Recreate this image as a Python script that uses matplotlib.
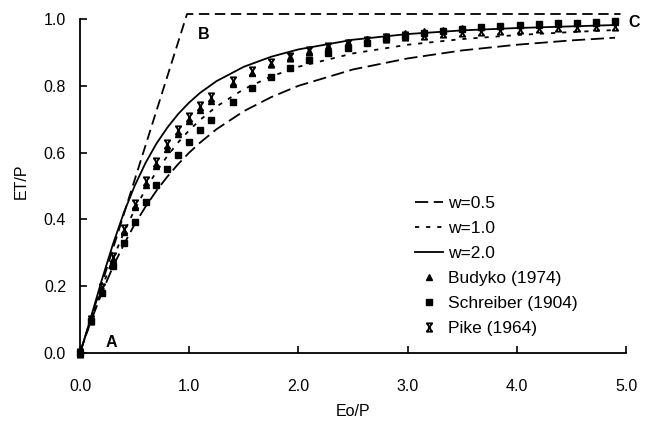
import matplotlib
matplotlib.use("Agg")
import matplotlib.pyplot as plt
from matplotlib.path import Path

plt.rcParams['font.family'] = ['Liberation Sans', 'DejaVu Sans']
plt.rcParams['lines.scale_dashes'] = False

# ---- data ----
# Zhang et al. curves (ET/P vs Eo/P)
curve_x = [0.0, 0.05, 0.1, 0.2, 0.3, 0.4, 0.5, 0.6, 0.7, 0.8, 0.9, 1.0, 1.1, 1.25, 1.5,
           1.75, 2.0, 2.5, 3.0, 3.5, 4.0, 4.5, 4.9]
w05 = [0.0, 0.049, 0.095, 0.180, 0.257, 0.324, 0.385, 0.438, 0.486, 0.528, 0.566, 0.600,
       0.630, 0.670, 0.724, 0.766, 0.800, 0.849, 0.882, 0.906, 0.923, 0.936, 0.944]
w10 = [0.0, 0.050, 0.099, 0.194, 0.281, 0.359, 0.429, 0.490, 0.543, 0.590, 0.631, 0.667,
       0.698, 0.738, 0.790, 0.828, 0.857, 0.897, 0.923, 0.940, 0.952, 0.961, 0.967]
w20 = [0.0, 0.052, 0.107, 0.219, 0.324, 0.419, 0.500, 0.569, 0.627, 0.675, 0.716, 0.750,
       0.779, 0.814, 0.857, 0.887, 0.909, 0.938, 0.955, 0.966, 0.973, 0.978, 0.982]

# empirical relationships (markers)
pts_x = [0.0, 0.1, 0.2, 0.3, 0.4, 0.5, 0.6, 0.7, 0.8, 0.9, 1.0, 1.1, 1.2,
         1.4, 1.575, 1.75, 1.925, 2.1, 2.275, 2.45, 2.625, 2.8, 2.975, 3.15,
         3.325, 3.5, 3.675, 3.85, 4.025, 4.2, 4.375, 4.55, 4.725, 4.9]
budyko = [0.0, 0.098, 0.190, 0.279, 0.361, 0.436, 0.502, 0.561, 0.611, 0.656, 0.694, 0.727, 0.756,
          0.804, 0.837, 0.864, 0.886, 0.904, 0.918, 0.931, 0.941, 0.950, 0.957, 0.963,
          0.967, 0.972, 0.975, 0.978, 0.981, 0.983, 0.985, 0.987, 0.988, 0.990]
schreiber = [0.0, 0.095, 0.181, 0.259, 0.330, 0.393, 0.451, 0.503, 0.551, 0.593, 0.632, 0.667, 0.699,
             0.753, 0.793, 0.826, 0.854, 0.878, 0.897, 0.914, 0.928, 0.939, 0.949, 0.957,
             0.964, 0.970, 0.975, 0.979, 0.982, 0.985, 0.987, 0.989, 0.991, 0.993]
pike = [0.0, 0.100, 0.196, 0.287, 0.371, 0.447, 0.514, 0.573, 0.625, 0.669, 0.707, 0.740, 0.768,
        0.814, 0.844, 0.868, 0.887, 0.903, 0.915, 0.926, 0.935, 0.942, 0.948, 0.953,
        0.958, 0.962, 0.965, 0.968, 0.971, 0.973, 0.975, 0.977, 0.978, 0.980]

# limits (energy limit A-B, water limit B-C)
limit_x = [0.0, 0.98, 4.95]
limit_y = [0.0, 1.015, 1.015]

series_labels = ['w=0.5', 'w=1.0', 'w=2.0', 'Budyko (1974)', 'Schreiber (1904)', 'Pike (1964)']
x_ticks = [0, 1, 2, 3, 4, 5]
x_ticklabels = ['0.0', '1.0', '2.0', '3.0', '4.0', '5.0']
y_ticks = [0.0, 0.2, 0.4, 0.6, 0.8, 1.0]
y_ticklabels = ['0.0', '0.2', '0.4', '0.6', '0.8', '1.0']

# ---- figure ----
fig = plt.figure(figsize=(6.54, 4.25), dpi=100)
ax = fig.add_axes([80 / 654, 1 - 353 / 425, 546 / 654, 344 / 425])

lw = 1.3
ax.plot(limit_x, limit_y, color='black', lw=lw, dashes=(7.5, 4), clip_on=False)
l1, = ax.plot(curve_x, w05, color='black', lw=lw, dashes=(9.5, 4), label=series_labels[0])
l2, = ax.plot(curve_x, w10, color='black', lw=lw, dashes=(3, 5), label=series_labels[1])
l3, = ax.plot(curve_x, w20, color='black', lw=lw, label=series_labels[2])

pike_marker = Path([(-0.8, 1), (0.8, 1), (-0.8, -1), (0.8, -1),
                    (-0.6, 1), (0.6, -1), (0.6, 1), (-0.6, -1)],
                   [Path.MOVETO, Path.LINETO, Path.MOVETO, Path.LINETO,
                    Path.MOVETO, Path.LINETO, Path.MOVETO, Path.LINETO])

m1, = ax.plot(pts_x, budyko, ls='none', marker='^', ms=5, color='black',
              label=series_labels[3], clip_on=False)
m2, = ax.plot(pts_x, schreiber, ls='none', marker='s', ms=5, color='black',
              label=series_labels[4], clip_on=False)
m3, = ax.plot(pts_x, pike, ls='none', marker=pike_marker, ms=6, mew=1.3, color='black',
              fillstyle='none', label=series_labels[5], clip_on=False)

ax.set_xlim(0, 5)
ax.set_ylim(0, 1.03)
for s in ['top', 'right']:
    ax.spines[s].set_visible(False)
ax.spines['left'].set_bounds(0, 1.0)
ax.spines['left'].set_linewidth(1.3)
ax.spines['bottom'].set_linewidth(1.3)

ax.set_xticks(x_ticks)
ax.set_xticklabels(x_ticklabels)
ax.set_yticks(y_ticks)
ax.set_yticklabels(y_ticklabels)
ax.tick_params(axis='x', direction='in', length=5, width=1.2, pad=19, labelsize=11.5)
ax.tick_params(axis='y', direction='in', length=5, width=1.2, pad=10, labelsize=11.5)

ax.set_xlabel('Eo/P', fontsize=11.5, labelpad=7)
ax.set_ylabel('ET/P', fontsize=11.5, labelpad=11)

ax.text(1.13, 0.955, 'B', fontsize=11.5, fontweight='bold', ha='center', va='center')
ax.text(5.07, 0.99, 'C', fontsize=11.5, fontweight='bold', ha='center', va='center', clip_on=False)
ax.text(0.285, 0.03, 'A', fontsize=11.5, fontweight='bold', ha='center', va='center')

leg = ax.legend(handles=[l1, l2, l3, m1, m2, m3], loc='upper left',
                bbox_to_anchor=((415 - 80) / 546, (353 - 196) / 344),
                frameon=False, fontsize=12.5, handlelength=1.6, handletextpad=0.3,
                labelspacing=0.57, borderpad=0, borderaxespad=0, numpoints=1)

fig.savefig('out.png', dpi=100)
